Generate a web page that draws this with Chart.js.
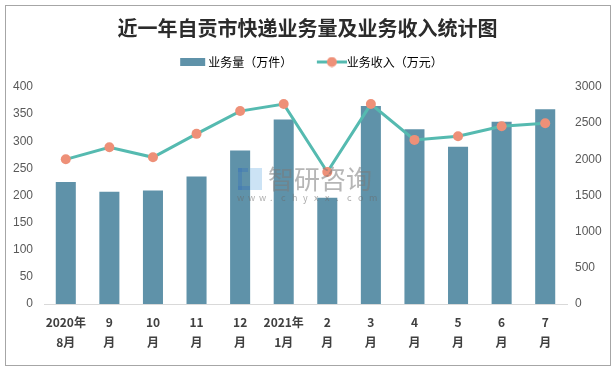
<!DOCTYPE html>
<html><head><meta charset="utf-8">
<script src="https://cdn.jsdelivr.net/npm/chart.js@4"></script>
<style>html,body{margin:0;padding:0;background:#fff}#w{width:615px;height:368px;position:relative}</style>
</head><body><div id="w"><canvas id="c" width="615" height="368"></canvas></div>
<script>
const categories = [["2020年","8月"],["9","月"],["10","月"],["11","月"],["12","月"],["2021年","1月"],["2","月"],["3","月"],["4","月"],["5","月"],["6","月"],["7","月"]];
const volume = [225, 207, 209, 235, 283, 340, 196, 365, 322, 290, 336, 359];
const revenue = [2000, 2167, 2028, 2352, 2667, 2764, 1824, 2764, 2269, 2319, 2458, 2500];
const leftTicks = [0, 50, 100, 150, 200, 250, 300, 350, 400];
const rightTicks = [0, 500, 1000, 1500, 2000, 2500, 3000];

const BAR = '#5F92A9', LINE = '#55BAB0', DOT = '#EE9078';
const FONT = '"Noto Sans CJK SC", "Noto Sans", sans-serif';

function icon(w, h, draw){ const c=document.createElement('canvas'); c.width=w; c.height=h; draw(c.getContext('2d')); return c; }
const barIcon = icon(42, 8, g=>{ g.fillStyle=BAR; g.fillRect(14,0,25,8); });
const lineIcon = icon(42, 11, g=>{ g.strokeStyle=LINE; g.lineWidth=3; g.beginPath(); g.moveTo(12,5.5); g.lineTo(42,5.5); g.stroke(); g.fillStyle=DOT; g.beginPath(); g.arc(27,5.5,5,0,Math.PI*2); g.fill(); });

const deco = {
  id:'deco',
  afterDatasetsDraw(chart){
    const g = chart.ctx; g.save();
    g.globalAlpha = 0.45;
    g.fillStyle = '#3f78b5'; g.fillRect(238,168,10,4); g.fillRect(238,168,4,22); g.fillRect(238,186,12,4);
    g.fillStyle = '#8fc1e8'; g.fillRect(250,168,12,22);
    g.globalAlpha = 0.55;
    g.fillStyle = '#7a7a7a'; g.font = '26px ' + FONT; g.textBaseline='middle'; g.textAlign='left';
    g.fillText('智研咨询', 268, 179);
    g.font = '9px ' + FONT; g.fillStyle = '#6a6a6a';
    const s = 'www.chyxx.com'; let x = 237;
    for (const ch of s){ g.fillText(ch, x, 198); x += 11; }
    g.restore();
  },
  afterDraw(chart){
    const g = chart.ctx; g.save(); g.strokeStyle='#a6a6a6'; g.lineWidth=1; g.strokeRect(5.5,5.5,605,360); g.restore();
  }
};

new Chart(document.getElementById('c'), {
  data: {
    labels: categories,
    datasets: [
      { type:'line', label:'业务收入（万元）', data: revenue, yAxisID:'y1', borderColor: LINE, borderWidth:3, pointBackgroundColor: DOT, pointBorderWidth:0, pointRadius:5, pointHoverRadius:5, tension:0, order:0 },
      { type:'bar', label:'业务量（万件）', data: volume, yAxisID:'y', backgroundColor: BAR, categoryPercentage:1, barPercentage:0.46, order:1 }
    ]
  },
  options: {
    responsive:false, animation:false, devicePixelRatio:1,
    layout:{ padding:0 },
    plugins: {
      title: { display:true, text:'近一年自贡市快递业务量及业务收入统计图', color:'#2b2b2b', font:{ family: FONT, size:20, weight:'bold', lineHeight:1.2 }, padding:{ top:16, bottom:6 } },
      subtitle: { display:true, text:'', weight:500, font:{ size:9, lineHeight:1 }, padding:0 },
      legend: { display:true, position:'top',
        labels: { color:'#404040', font:{ family: FONT, size:12 }, padding:10, usePointStyle:true, boxHeight:10, pointStyleWidth:30,
          generateLabels(chart){
            return [
              { text:'业务量（万件）\u3000 ', pointStyle: barIcon, datasetIndex:1, fillStyle:BAR, strokeStyle:BAR, lineWidth:0, hidden:false },
              { text:'业务收入（万元）', pointStyle: lineIcon, datasetIndex:0, fillStyle:DOT, strokeStyle:LINE, lineWidth:0, hidden:false }
            ];
          } } },
      tooltip:{ enabled:false }
    },
    scales: {
      x: { grid:{ display:false, drawTicks:false }, border:{ display:true, color:'#d9d9d9', width:1 },
           ticks:{ color:'#404040', font:{ family: FONT, size:12, weight:'bold', lineHeight:1.7 }, padding:8, maxRotation:0, autoSkip:false },
           afterFit(s){ s.height = 64; } },
      y: { position:'left', min:0, max:400, grid:{ display:false, drawTicks:false }, border:{ display:false },
           afterBuildTicks(s){ s.ticks = leftTicks.map(v=>({value:v})); },
           ticks:{ color:'#595959', font:{ family:'"Liberation Sans", sans-serif', size:12 }, padding:11, callback:v=>String(v) },
           afterFit(s){ s.width = 44; } },
      y1: { position:'right', min:0, max:3000, grid:{ display:false, drawTicks:false }, border:{ display:false },
           afterBuildTicks(s){ s.ticks = rightTicks.map(v=>({value:v})); },
           ticks:{ color:'#595959', font:{ family:'"Liberation Sans", sans-serif', size:12 }, padding:8, callback:v=>String(v) },
           afterFit(s){ s.width = 48; } }
    }
  },
  plugins:[deco]
});
</script></body></html>
